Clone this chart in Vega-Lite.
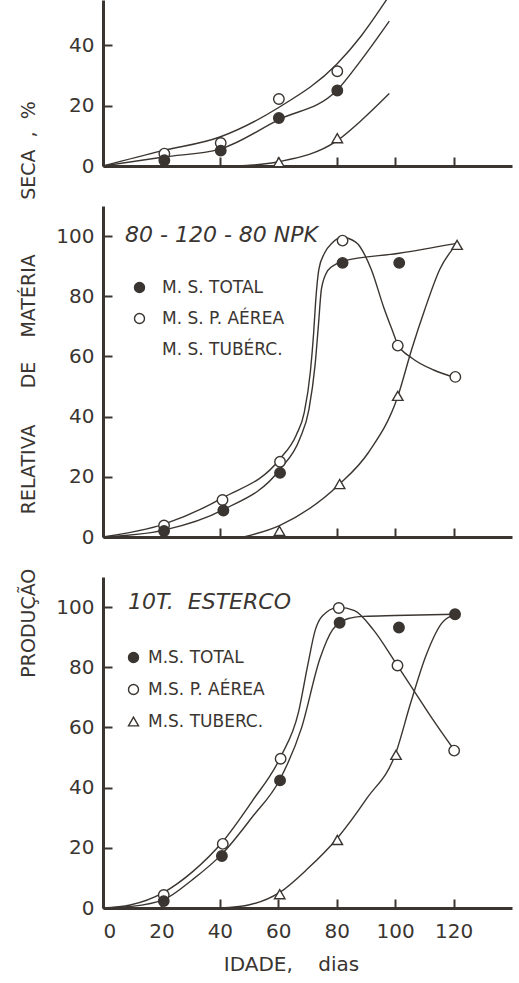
{
  "$schema": "https://vega.github.io/schema/vega-lite/v6.json",
  "background": "white",
  "padding": {"left": 18, "top": 0, "right": 2, "bottom": 0},
  "bounds": "flush",
  "spacing": 40,
  "config": {
    "view": {"stroke": null},
    "font": "DejaVu Sans",
    "axis": {
      "grid": false,
      "domainColor": "#3a3531",
      "domainWidth": 3,
      "tickColor": "#3a3531",
      "tickWidth": 2,
      "tickSize": -9,
      "labelColor": "#3a3531",
      "labelFont": "DejaVu Sans",
      "labelFontSize": 20,
      "titleColor": "#3a3531",
      "titleFont": "DejaVu Sans",
      "titleFontWeight": "normal",
      "titleFontSize": 19
    }
  },
  "datasets": {
    "pts": [
      {"panel": "top", "serie": "aerea", "x": 21, "y": 4.1},
      {"panel": "top", "serie": "aerea", "x": 40.3, "y": 7.6},
      {"panel": "top", "serie": "aerea", "x": 60.2, "y": 22.2},
      {"panel": "top", "serie": "aerea", "x": 80.2, "y": 31.4},
      {"panel": "top", "serie": "tuberc", "x": 60.2, "y": 1.3},
      {"panel": "top", "serie": "tuberc", "x": 80.2, "y": 9.2},
      {"panel": "top", "serie": "total", "x": 21, "y": 1.9},
      {"panel": "top", "serie": "total", "x": 40.3, "y": 5.1},
      {"panel": "top", "serie": "total", "x": 60.2, "y": 15.9},
      {"panel": "top", "serie": "total", "x": 80.2, "y": 25},
      {"panel": "npk", "serie": "aerea", "x": 20.9, "y": 3.8},
      {"panel": "npk", "serie": "aerea", "x": 40.9, "y": 12.3},
      {"panel": "npk", "serie": "aerea", "x": 60.6, "y": 25},
      {"panel": "npk", "serie": "aerea", "x": 82, "y": 98.5},
      {"panel": "npk", "serie": "aerea", "x": 100.9, "y": 63.6},
      {"panel": "npk", "serie": "aerea", "x": 120.6, "y": 53.2},
      {"panel": "npk", "serie": "tuberc", "x": 60.4, "y": 2.0},
      {"panel": "npk", "serie": "tuberc", "x": 81, "y": 17.6},
      {"panel": "npk", "serie": "tuberc", "x": 100.9, "y": 46.9},
      {"panel": "npk", "serie": "tuberc", "x": 121.2, "y": 97.1},
      {"panel": "npk", "serie": "total", "x": 20.9, "y": 2.0},
      {"panel": "npk", "serie": "total", "x": 41.2, "y": 8.8},
      {"panel": "npk", "serie": "total", "x": 60.6, "y": 21.3},
      {"panel": "npk", "serie": "total", "x": 82, "y": 91.1},
      {"panel": "npk", "serie": "total", "x": 101.4, "y": 91.1},
      {"panel": "esterco", "serie": "aerea", "x": 20.8, "y": 4.3},
      {"panel": "esterco", "serie": "aerea", "x": 41, "y": 21.3},
      {"panel": "esterco", "serie": "aerea", "x": 60.8, "y": 49.6},
      {"panel": "esterco", "serie": "aerea", "x": 80.7, "y": 99.7},
      {"panel": "esterco", "serie": "aerea", "x": 100.8, "y": 80.6},
      {"panel": "esterco", "serie": "aerea", "x": 120.2, "y": 52.3},
      {"panel": "esterco", "serie": "tuberc", "x": 60.5, "y": 4.6},
      {"panel": "esterco", "serie": "tuberc", "x": 80.2, "y": 22.6},
      {"panel": "esterco", "serie": "tuberc", "x": 100.3, "y": 50.9},
      {"panel": "esterco", "serie": "total", "x": 20.8, "y": 2.3},
      {"panel": "esterco", "serie": "total", "x": 40.7, "y": 17.3},
      {"panel": "esterco", "serie": "total", "x": 60.6, "y": 42.4},
      {"panel": "esterco", "serie": "total", "x": 81, "y": 94.8},
      {"panel": "esterco", "serie": "total", "x": 101.3, "y": 93.2},
      {"panel": "esterco", "serie": "total", "x": 120.5, "y": 97.6}
    ],
    "curves": [
      {"panel": "top", "serie": "aerea", "x": 0, "y": 0},
      {"panel": "top", "serie": "aerea", "x": 20, "y": 5},
      {"panel": "top", "serie": "aerea", "x": 40, "y": 9.6},
      {"panel": "top", "serie": "aerea", "x": 60, "y": 19.3},
      {"panel": "top", "serie": "aerea", "x": 80, "y": 33.7},
      {"panel": "top", "serie": "aerea", "x": 88.3, "y": 43},
      {"panel": "top", "serie": "aerea", "x": 95.4, "y": 52.7},
      {"panel": "top", "serie": "aerea", "x": 98, "y": 56.5},
      {"panel": "top", "serie": "total", "x": 0, "y": 0},
      {"panel": "top", "serie": "total", "x": 20.8, "y": 3},
      {"panel": "top", "serie": "total", "x": 40, "y": 5.6},
      {"panel": "top", "serie": "total", "x": 60, "y": 15.3},
      {"panel": "top", "serie": "total", "x": 80, "y": 25},
      {"panel": "top", "serie": "total", "x": 88.3, "y": 35},
      {"panel": "top", "serie": "total", "x": 98, "y": 48},
      {"panel": "top", "serie": "tuberc", "x": 45.8, "y": 0},
      {"panel": "top", "serie": "tuberc", "x": 60, "y": 1.4},
      {"panel": "top", "serie": "tuberc", "x": 80, "y": 8.3},
      {"panel": "top", "serie": "tuberc", "x": 88.3, "y": 15},
      {"panel": "top", "serie": "tuberc", "x": 98, "y": 24},
      {"panel": "npk", "serie": "aerea", "x": 0, "y": 0},
      {"panel": "npk", "serie": "aerea", "x": 20.9, "y": 4.3},
      {"panel": "npk", "serie": "aerea", "x": 40.9, "y": 13},
      {"panel": "npk", "serie": "aerea", "x": 60.6, "y": 26},
      {"panel": "npk", "serie": "aerea", "x": 66.2, "y": 34},
      {"panel": "npk", "serie": "aerea", "x": 68.9, "y": 41.4},
      {"panel": "npk", "serie": "aerea", "x": 71, "y": 55.1},
      {"panel": "npk", "serie": "aerea", "x": 72.1, "y": 67.8},
      {"panel": "npk", "serie": "aerea", "x": 72.8, "y": 78.4},
      {"panel": "npk", "serie": "aerea", "x": 73.9, "y": 89},
      {"panel": "npk", "serie": "aerea", "x": 75.8, "y": 94.3},
      {"panel": "npk", "serie": "aerea", "x": 78.5, "y": 97.8},
      {"panel": "npk", "serie": "aerea", "x": 81.7, "y": 99.6},
      {"panel": "npk", "serie": "aerea", "x": 86.5, "y": 98},
      {"panel": "npk", "serie": "aerea", "x": 91.8, "y": 89},
      {"panel": "npk", "serie": "aerea", "x": 96.1, "y": 76.3},
      {"panel": "npk", "serie": "aerea", "x": 99.3, "y": 68},
      {"panel": "npk", "serie": "aerea", "x": 100.9, "y": 64},
      {"panel": "npk", "serie": "aerea", "x": 105.7, "y": 59.5},
      {"panel": "npk", "serie": "aerea", "x": 113.2, "y": 55.5},
      {"panel": "npk", "serie": "aerea", "x": 120.6, "y": 53},
      {"panel": "npk", "serie": "total", "x": 0, "y": 0},
      {"panel": "npk", "serie": "total", "x": 20.9, "y": 2.3},
      {"panel": "npk", "serie": "total", "x": 41.2, "y": 9.1},
      {"panel": "npk", "serie": "total", "x": 60.6, "y": 22.5},
      {"panel": "npk", "serie": "total", "x": 67.3, "y": 32.5},
      {"panel": "npk", "serie": "total", "x": 70.5, "y": 42.4},
      {"panel": "npk", "serie": "total", "x": 72.6, "y": 57.2},
      {"panel": "npk", "serie": "total", "x": 73.7, "y": 69.9},
      {"panel": "npk", "serie": "total", "x": 74.8, "y": 82.6},
      {"panel": "npk", "serie": "total", "x": 76.9, "y": 88.5},
      {"panel": "npk", "serie": "total", "x": 79.6, "y": 90.6},
      {"panel": "npk", "serie": "total", "x": 82, "y": 91.6},
      {"panel": "npk", "serie": "total", "x": 101.4, "y": 94.3},
      {"panel": "npk", "serie": "total", "x": 120.6, "y": 97.5},
      {"panel": "npk", "serie": "tuberc", "x": 48.1, "y": 0},
      {"panel": "npk", "serie": "tuberc", "x": 60.4, "y": 3.8},
      {"panel": "npk", "serie": "tuberc", "x": 81, "y": 17.6},
      {"panel": "npk", "serie": "tuberc", "x": 90.8, "y": 28},
      {"panel": "npk", "serie": "tuberc", "x": 100.9, "y": 46.7},
      {"panel": "npk", "serie": "tuberc", "x": 105.7, "y": 62.5},
      {"panel": "npk", "serie": "tuberc", "x": 110, "y": 75.2},
      {"panel": "npk", "serie": "tuberc", "x": 115.3, "y": 89},
      {"panel": "npk", "serie": "tuberc", "x": 121.2, "y": 97.5},
      {"panel": "esterco", "serie": "aerea", "x": 0, "y": 0},
      {"panel": "esterco", "serie": "aerea", "x": 9.3, "y": 1},
      {"panel": "esterco", "serie": "aerea", "x": 20.8, "y": 5.2},
      {"panel": "esterco", "serie": "aerea", "x": 30.6, "y": 12},
      {"panel": "esterco", "serie": "aerea", "x": 41, "y": 22.1},
      {"panel": "esterco", "serie": "aerea", "x": 50.9, "y": 35.3},
      {"panel": "esterco", "serie": "aerea", "x": 60.8, "y": 50.2},
      {"panel": "esterco", "serie": "aerea", "x": 66.9, "y": 65},
      {"panel": "esterco", "serie": "aerea", "x": 70.1, "y": 80.8},
      {"panel": "esterco", "serie": "aerea", "x": 72.7, "y": 92.5},
      {"panel": "esterco", "serie": "aerea", "x": 76.5, "y": 98.3},
      {"panel": "esterco", "serie": "aerea", "x": 80.7, "y": 99.9},
      {"panel": "esterco", "serie": "aerea", "x": 86.1, "y": 98.8},
      {"panel": "esterco", "serie": "aerea", "x": 92.5, "y": 92.5},
      {"panel": "esterco", "serie": "aerea", "x": 99.9, "y": 81.9},
      {"panel": "esterco", "serie": "aerea", "x": 106.3, "y": 72.4},
      {"panel": "esterco", "serie": "aerea", "x": 112.7, "y": 62.9},
      {"panel": "esterco", "serie": "aerea", "x": 120.2, "y": 52.5},
      {"panel": "esterco", "serie": "total", "x": 0, "y": 0},
      {"panel": "esterco", "serie": "total", "x": 9.3, "y": 0.5},
      {"panel": "esterco", "serie": "total", "x": 20.8, "y": 2.8},
      {"panel": "esterco", "serie": "total", "x": 30.6, "y": 9.4},
      {"panel": "esterco", "serie": "total", "x": 40.7, "y": 17.9},
      {"panel": "esterco", "serie": "total", "x": 50.9, "y": 30},
      {"panel": "esterco", "serie": "total", "x": 60.6, "y": 42.8},
      {"panel": "esterco", "serie": "total", "x": 67.9, "y": 59.7},
      {"panel": "esterco", "serie": "total", "x": 74.3, "y": 83},
      {"panel": "esterco", "serie": "total", "x": 78.6, "y": 92.5},
      {"panel": "esterco", "serie": "total", "x": 84, "y": 96.2},
      {"panel": "esterco", "serie": "total", "x": 89.3, "y": 96.9},
      {"panel": "esterco", "serie": "total", "x": 99.9, "y": 97.2},
      {"panel": "esterco", "serie": "total", "x": 120.5, "y": 97.6},
      {"panel": "esterco", "serie": "tuberc", "x": 40.2, "y": 0},
      {"panel": "esterco", "serie": "tuberc", "x": 49.8, "y": 1},
      {"panel": "esterco", "serie": "tuberc", "x": 60.5, "y": 5.2},
      {"panel": "esterco", "serie": "tuberc", "x": 70.1, "y": 13.1},
      {"panel": "esterco", "serie": "tuberc", "x": 80.2, "y": 23.2},
      {"panel": "esterco", "serie": "tuberc", "x": 90.3, "y": 36.4},
      {"panel": "esterco", "serie": "tuberc", "x": 100.3, "y": 51.7},
      {"panel": "esterco", "serie": "tuberc", "x": 105.3, "y": 68.1},
      {"panel": "esterco", "serie": "tuberc", "x": 110.6, "y": 84},
      {"panel": "esterco", "serie": "tuberc", "x": 115.9, "y": 94.6},
      {"panel": "esterco", "serie": "tuberc", "x": 120.5, "y": 97.6}
    ]
  },
  "resolve": {
    "scale": {"fill": "independent", "shape": "independent"},
    "legend": {"fill": "independent", "shape": "independent"}
  },
  "vconcat": [
    {
      "width": 409,
      "height": 166,
      "layer": [
        {
          "data": {"name": "curves"},
          "transform": [{"filter": "datum.panel == 'top'"}],
          "mark": {"type": "line", "interpolate": "monotone", "clip": true, "color": "#3a3531", "strokeWidth": 1.4},
          "encoding": {
            "x": {"field": "x", "type": "quantitative", "scale": {"domain": [0, 131]},
                  "axis": {"values": [0, 20, 40, 60, 80, 100, 120], "labels": false, "title": null}},
            "y": {"field": "y", "type": "quantitative", "scale": {"domain": [0, 52.7]},
                  "axis": {"values": [0, 20, 40], "labelPadding": 18,
                           "title": "PRODUÇÃO\u00a0\u00a0\u00a0\u00a0\u00a0\u00a0\u00a0\u00a0\u00a0RELATIVA\u00a0\u00a0\u00a0\u00a0\u00a0\u00a0DE\u00a0\u00a0\u00a0\u00a0MATÉRIA\u00a0\u00a0\u00a0\u00a0\u00a0\u00a0\u00a0\u00a0\u00a0SECA\u00a0\u00a0,\u00a0\u00a0%",
                           "titleX": -75, "titleY": 389, "titleAngle": 270, "titleAlign": "center", "titleBaseline": "middle"}},
            "detail": {"field": "serie"}
          }
        },
        {
          "data": {"name": "pts"},
          "transform": [{"filter": "datum.panel == 'top'"}],
          "mark": {"type": "point", "filled": true, "opacity": 1, "clip": true, "stroke": "#3a3531", "strokeWidth": 1.4, "size": 110},
          "encoding": {
            "x": {"field": "x", "type": "quantitative"},
            "y": {"field": "y", "type": "quantitative"},
            "fill": {"field": "serie", "type": "nominal", "scale": {"domain": ["total", "aerea", "tuberc"], "range": ["#3a3531", "#ffffff", "#ffffff"]}, "legend": null},
            "shape": {"field": "serie", "type": "nominal", "scale": {"domain": ["total", "aerea", "tuberc"], "range": ["circle", "circle", "triangle-up"]}, "legend": null}
          }
        }
      ]
    },
    {
      "width": 409,
      "height": 331,
      "title": {"text": "80 - 120 - 80 NPK", "anchor": "start", "frame": "group", "offset": 0, "dx": 22, "dy": 51, "baseline": "middle",
                "font": "DejaVu Sans", "fontSize": 22, "fontStyle": "italic", "fontWeight": "normal", "color": "#3a3531"},
      "layer": [
        {
          "data": {"name": "curves"},
          "transform": [{"filter": "datum.panel == 'npk'"}],
          "mark": {"type": "line", "interpolate": "monotone", "clip": true, "color": "#3a3531", "strokeWidth": 1.4},
          "encoding": {
            "x": {"field": "x", "type": "quantitative", "scale": {"domain": [0, 131]},
                  "axis": {"values": [0, 20, 40, 60, 80, 100, 120], "labels": false, "title": null}},
            "y": {"field": "y", "type": "quantitative", "scale": {"domain": [0, 105.08]},
                  "axis": {"values": [0, 20, 40, 60, 80, 100], "labelPadding": 18, "title": null}},
            "detail": {"field": "serie"}
          }
        },
        {
          "data": {"name": "pts"},
          "transform": [{"filter": "datum.panel == 'npk'"}],
          "mark": {"type": "point", "filled": true, "opacity": 1, "stroke": "#3a3531", "strokeWidth": 1.4, "size": 110},
          "encoding": {
            "x": {"field": "x", "type": "quantitative"},
            "y": {"field": "y", "type": "quantitative"},
            "fill": {"field": "serie", "type": "nominal", "scale": {"domain": ["total", "aerea", "tuberc"], "range": ["#3a3531", "#ffffff", "#ffffff"]},
                     "legend": {"orient": "none", "legendX": 28, "legendY": 73, "title": null, "padding": 0,
                                "labelExpr": "datum.value == 'total' ? 'M. S. TOTAL' : datum.value == 'aerea' ? 'M. S. P. AÉREA' : 'M. S. TUBÉRC.'",
                                "labelFont": "DejaVu Sans", "labelFontSize": 17, "labelColor": "#3a3531", "labelOffset": 14, "rowPadding": 13,
                                "symbolSize": 100, "symbolOpacity": 1, "symbolStrokeColor": "#3a3531", "symbolStrokeWidth": 1.4,
                                "encode": {"symbols": {"update": {"stroke": {"value": "#3a3531"}, "strokeWidth": {"value": 1.4}, "opacity": {"signal": "datum.value === 'tuberc' ? 0 : 1"}}}}}},
            "shape": {"field": "serie", "type": "nominal", "scale": {"domain": ["total", "aerea", "tuberc"], "range": ["circle", "circle", "triangle-up"]},
                      "legend": {"orient": "none", "legendX": 28, "legendY": 73, "title": null, "padding": 0,
                                 "labelExpr": "datum.value == 'total' ? 'M. S. TOTAL' : datum.value == 'aerea' ? 'M. S. P. AÉREA' : 'M. S. TUBÉRC.'",
                                 "labelFont": "DejaVu Sans", "labelFontSize": 17, "labelColor": "#3a3531", "labelOffset": 14, "rowPadding": 13,
                                 "symbolSize": 100, "symbolOpacity": 1, "symbolStrokeColor": "#3a3531", "symbolStrokeWidth": 1.4,
                                 "encode": {"symbols": {"update": {"stroke": {"value": "#3a3531"}, "strokeWidth": {"value": 1.4}, "opacity": {"signal": "datum.value === 'tuberc' ? 0 : 1"}}}}}}
          }
        }
      ]
    },
    {
      "width": 409,
      "height": 331,
      "title": {"text": "10T.\u00a0\u00a0ESTERCO", "anchor": "start", "frame": "group", "offset": 0, "dx": 25, "dy": 47, "baseline": "middle",
                "font": "DejaVu Sans", "fontSize": 22, "fontStyle": "italic", "fontWeight": "normal", "color": "#3a3531"},
      "layer": [
        {
          "data": {"name": "curves"},
          "transform": [{"filter": "datum.panel == 'esterco'"}],
          "mark": {"type": "line", "interpolate": "monotone", "clip": true, "color": "#3a3531", "strokeWidth": 1.4},
          "encoding": {
            "x": {"field": "x", "type": "quantitative", "scale": {"domain": [0, 131]},
                  "axis": {"values": [0, 20, 40, 60, 80, 100, 120], "labelPadding": 22,
                           "title": "IDADE,\u00a0\u00a0\u00a0\u00a0dias", "titleFontSize": 20, "titlePadding": 13, "titleX": 188}},
            "y": {"field": "y", "type": "quantitative", "scale": {"domain": [0, 105.08]},
                  "axis": {"values": [0, 20, 40, 60, 80, 100], "labelPadding": 18, "title": null}},
            "detail": {"field": "serie"}
          }
        },
        {
          "data": {"name": "pts"},
          "transform": [{"filter": "datum.panel == 'esterco'"}],
          "mark": {"type": "point", "filled": true, "opacity": 1, "stroke": "#3a3531", "strokeWidth": 1.4, "size": 110},
          "encoding": {
            "x": {"field": "x", "type": "quantitative"},
            "y": {"field": "y", "type": "quantitative"},
            "fill": {"field": "serie", "type": "nominal", "scale": {"domain": ["total", "aerea", "tuberc"], "range": ["#3a3531", "#ffffff", "#ffffff"]},
                     "legend": {"orient": "none", "legendX": 22, "legendY": 72, "title": null, "padding": 0,
                                "labelExpr": "datum.value == 'total' ? 'M.S. TOTAL' : datum.value == 'aerea' ? 'M.S. P. AÉREA' : 'M.S. TUBERC.'",
                                "labelFont": "DejaVu Sans", "labelFontSize": 17, "labelColor": "#3a3531", "labelOffset": 6, "rowPadding": 14,
                                "symbolSize": 100, "symbolOpacity": 1, "symbolStrokeColor": "#3a3531", "symbolStrokeWidth": 1.4,
                                "encode": {"symbols": {"update": {"stroke": {"value": "#3a3531"}, "strokeWidth": {"value": 1.4}, "opacity": {"value": 1}}}}}},
            "shape": {"field": "serie", "type": "nominal", "scale": {"domain": ["total", "aerea", "tuberc"], "range": ["circle", "circle", "triangle-up"]},
                      "legend": {"orient": "none", "legendX": 22, "legendY": 72, "title": null, "padding": 0,
                                 "labelExpr": "datum.value == 'total' ? 'M.S. TOTAL' : datum.value == 'aerea' ? 'M.S. P. AÉREA' : 'M.S. TUBERC.'",
                                 "labelFont": "DejaVu Sans", "labelFontSize": 17, "labelColor": "#3a3531", "labelOffset": 6, "rowPadding": 14,
                                 "symbolSize": 100, "symbolOpacity": 1, "symbolStrokeColor": "#3a3531", "symbolStrokeWidth": 1.4,
                                 "encode": {"symbols": {"update": {"stroke": {"value": "#3a3531"}, "strokeWidth": {"value": 1.4}, "opacity": {"value": 1}}}}}}
          }
        }
      ]
    }
  ]
}
